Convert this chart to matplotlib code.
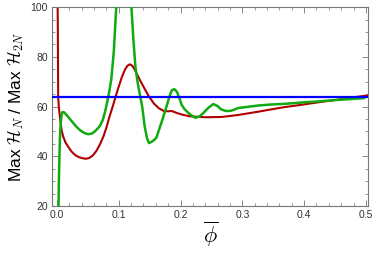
import matplotlib
matplotlib.use("Agg")
import matplotlib.pyplot as plt
from matplotlib.ticker import MultipleLocator

plt.rcParams['font.family'] = ['Liberation Sans', 'DejaVu Sans']
plt.rcParams['mathtext.fontset'] = 'cm'

# red curve
red_x = [0.0008, 0.0015, 0.002, 0.003, 0.005, 0.0075, 0.010, 0.014, 0.018, 0.024,
         0.030, 0.036, 0.042, 0.047, 0.052, 0.058, 0.064, 0.070, 0.075, 0.080,
         0.085, 0.090, 0.095, 0.100, 0.105, 0.110, 0.114, 0.118, 0.122, 0.126,
         0.133, 0.140, 0.149, 0.157, 0.165, 0.173, 0.180, 0.186, 0.194, 0.205,
         0.215, 0.226, 0.240, 0.266, 0.293, 0.325, 0.350, 0.369, 0.390, 0.417,
         0.440, 0.465, 0.485, 0.505]
red_y = [110, 90, 64, 60, 55.5, 50.6, 48.0, 45.5, 43.9, 41.8,
         40.4, 39.6, 39.2, 39.0, 39.3, 40.3, 42.2, 45.0, 47.8, 51.5,
         55.9, 59.8, 64.0, 68.0, 71.8, 74.8, 76.4, 77.0, 76.4, 74.8,
         71.3, 68.0, 64.0, 61.2, 59.3, 58.2, 58.1, 58.2, 57.4, 56.6,
         56.1, 55.9, 55.7, 55.8, 56.6, 57.9, 59.0, 59.8, 60.5, 61.5,
         62.3, 63.1, 63.9, 64.5]

# green curve
green_x = [0.0025, 0.003, 0.004, 0.005, 0.006, 0.0075, 0.009, 0.012, 0.016, 0.020,
           0.025, 0.030, 0.036, 0.042, 0.047, 0.051, 0.056, 0.061, 0.066, 0.070,
           0.074, 0.078, 0.082, 0.085, 0.088, 0.092, 0.096, 0.100, 0.108, 0.116,
           0.120, 0.124, 0.127, 0.130, 0.134, 0.138, 0.142, 0.146, 0.149, 0.153,
           0.157, 0.161, 0.165, 0.171, 0.178, 0.182, 0.186, 0.190, 0.194, 0.198,
           0.202, 0.207, 0.213, 0.219, 0.224, 0.230, 0.237, 0.245, 0.253, 0.260,
           0.266, 0.274, 0.282, 0.293, 0.309, 0.325, 0.345, 0.369, 0.400, 0.425,
           0.449, 0.475, 0.497]
green_y = [15, 28, 40, 48, 53, 56.5, 57.8, 57.6, 56.5, 55.3,
           53.8, 52.3, 50.8, 49.7, 49.1, 48.9, 49.1, 49.9, 51.2, 52.4,
           54.5, 58.0, 62.6, 66.5, 71.0, 82.0, 100.0, 120, 135, 120,
           102, 86, 76, 70.6, 65.0, 60.0, 52.0, 47.0, 45.3, 45.8,
           46.5, 47.5, 50.5, 55.0, 60.6, 64.0, 66.6, 67.0, 66.0, 63.5,
           60.6, 58.8, 57.4, 56.2, 55.5, 55.9, 57.4, 59.5, 61.0, 60.2,
           58.8, 58.2, 58.3, 59.4, 59.9, 60.4, 60.8, 61.1, 61.7, 62.1,
           62.6, 63.0, 63.4]

blue_level = 64.0

fig = plt.figure(figsize=(3.74, 2.54), dpi=100)
ax = fig.add_axes([0.139, 0.189, 0.846, 0.783])

ax.plot(red_x, red_y, color='#b00000', lw=1.5, zorder=2)
ax.plot(green_x, green_y, color='#11aa11', lw=1.8, zorder=3)
ax.axhline(blue_level, color='#0000ff', lw=1.6, zorder=4)

ax.set_xlim(-0.008, 0.504)
ax.set_ylim(20, 100)
ax.xaxis.set_major_locator(MultipleLocator(0.1))
ax.xaxis.set_minor_locator(MultipleLocator(0.02))
ax.yaxis.set_major_locator(MultipleLocator(20))
ax.yaxis.set_minor_locator(MultipleLocator(5))
ax.xaxis.set_major_formatter(plt.FuncFormatter(lambda v, p: '%.1f' % v))

for s in ax.spines.values():
    s.set_color('#777777')
    s.set_linewidth(0.8)
ax.tick_params(which='both', direction='in', top=True, right=True,
               colors='#888888', labelcolor='#333333', labelsize=7.5, pad=3)
ax.tick_params(which='major', length=4, width=0.7)
ax.tick_params(which='minor', length=2, width=0.6)

ax.set_ylabel(r'Max $\mathcal{H}_N$ / Max $\mathcal{H}_{2N}$', fontsize=12.5, labelpad=3)
ax.set_xlabel(r'$\overline{\phi}$', fontsize=16, labelpad=0)

fig.savefig('out.png', dpi=100)
